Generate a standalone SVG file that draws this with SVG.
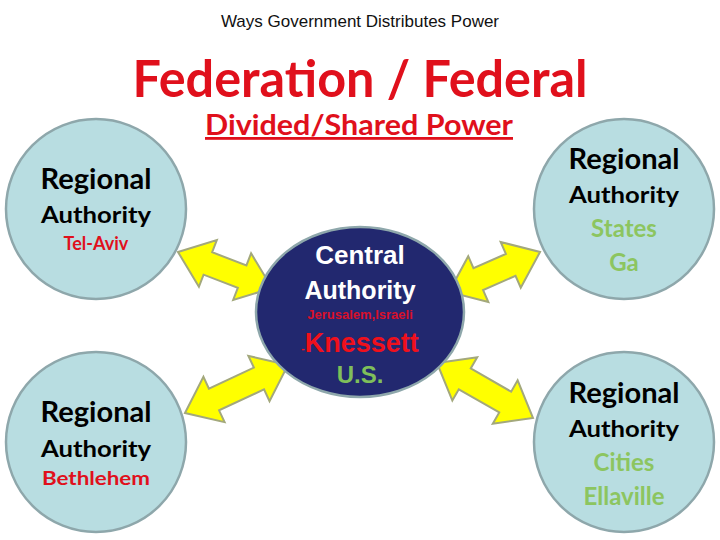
<svg xmlns="http://www.w3.org/2000/svg" width="720" height="540" viewBox="0 0 720 540">
<style>
.reg{fill:#b8dde1;stroke:#8ea7ab;stroke-width:2.5}
.arr{fill:#ffff00;stroke:#a3a87c;stroke-width:2;stroke-linejoin:miter}
.c{font-family:Lato,"Liberation Sans",sans-serif;font-weight:bold;text-anchor:middle}
.a{font-family:"Liberation Sans",Arial,sans-serif;font-weight:bold;text-anchor:middle}
</style>
<rect width="720" height="540" fill="#fff"/>
<text x="360" y="27" font-family="Liberation Sans,Arial,sans-serif" font-size="17" text-anchor="middle" fill="#111">Ways Government Distributes Power</text>
<text class="c" x="360" y="97" font-size="52" fill="#e0101c" textLength="455" lengthAdjust="spacingAndGlyphs">Federation / Federal</text>
<text class="c" x="359" y="135" font-size="28" fill="#e0101c" text-decoration="underline" textLength="308" lengthAdjust="spacingAndGlyphs">Divided/Shared Power</text>
<g id="connectors">
<polygon class="arr" transform="translate(178,252) rotate(21)" points="0,0 32,-25 32,-12 68.7,-12 68.7,-25 100.7,0 68.7,25 68.7,12 32,12 32,25"/>
<polygon class="arr" transform="translate(540,252) rotate(156.3)" points="0,0 32,-25 32,-12 67.4,-12 67.4,-25 99.4,0 67.4,25 67.4,12 32,12 32,25"/>
<polygon class="arr" transform="translate(185,413) rotate(-25)" points="0,0 32,-25 32,-12 81.6,-12 81.6,-25 113.6,0 81.6,25 81.6,12 32,12 32,25"/>
<polygon class="arr" transform="translate(437,363) rotate(29.8)" points="0,0 32,-25 32,-12 78.6,-12 78.6,-25 110.6,0 78.6,25 78.6,12 32,12 32,25"/>
</g>
<g id="central">
<ellipse cx="360" cy="312" rx="104" ry="85" fill="#22286f" stroke="#8ea7ab" stroke-width="2.5"/>
<text class="a" x="360" y="264" font-size="26" fill="#fff">Central</text>
<text class="a" x="360" y="299" font-size="25" fill="#fff">Authority</text>
<text class="a" x="360" y="319" font-size="13" fill="#d8102a">Jerusalem,Israeli</text>
<text class="a" x="360" y="352" font-size="27" fill="#f0101c"><tspan font-size="10">-</tspan>Knessett</text>
<text class="a" x="360" y="383" font-size="24" fill="#7fbf5a">U.S.</text>
</g>
<g id="tl">
<circle class="reg" cx="96" cy="209" r="90"/>
<text class="c" x="96" y="189" font-size="28" font-weight="normal" fill="#000" textLength="111" lengthAdjust="spacingAndGlyphs">Regional</text>
<text class="c" x="96" y="223" font-size="23" fill="#000" textLength="110" lengthAdjust="spacingAndGlyphs">Authority</text>
<text class="c" x="96" y="250" font-size="18" fill="#e0101c">Tel-Aviv</text>
</g>
<g id="bl">
<circle class="reg" cx="96" cy="442" r="90"/>
<text class="c" x="96" y="422" font-size="28" fill="#000" textLength="111" lengthAdjust="spacingAndGlyphs">Regional</text>
<text class="c" x="96" y="457" font-size="23" fill="#000" textLength="110" lengthAdjust="spacingAndGlyphs">Authority</text>
<text class="c" x="96" y="485" font-size="19" fill="#e0101c" textLength="108" lengthAdjust="spacingAndGlyphs">Bethlehem</text>
</g>
<g id="tr">
<circle class="reg" cx="624" cy="209" r="90"/>
<text class="c" x="624" y="169" font-size="28" fill="#000" textLength="111" lengthAdjust="spacingAndGlyphs">Regional</text>
<text class="c" x="624" y="203" font-size="23" fill="#000" textLength="110" lengthAdjust="spacingAndGlyphs">Authority</text>
<text class="c" x="624" y="237" font-size="24" fill="#8cc560">States</text>
<text class="c" x="624" y="271" font-size="24" fill="#8cc560">Ga</text>
</g>
<g id="br">
<circle class="reg" cx="624" cy="442" r="90"/>
<text class="c" x="624" y="403" font-size="28" fill="#000" textLength="111" lengthAdjust="spacingAndGlyphs">Regional</text>
<text class="c" x="624" y="437" font-size="23" fill="#000" textLength="110" lengthAdjust="spacingAndGlyphs">Authority</text>
<text class="c" x="624" y="471" font-size="24" fill="#8cc560">Cities</text>
<text class="c" x="624" y="505" font-size="24" fill="#8cc560">Ellaville</text>
</g>
</svg>
